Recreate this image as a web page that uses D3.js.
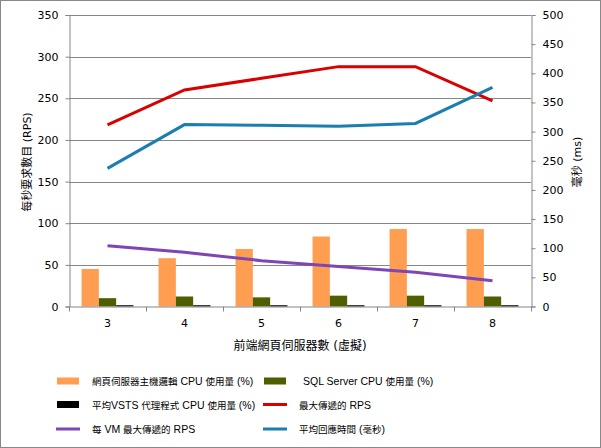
<!DOCTYPE html>
<html><head><meta charset="utf-8">
<script src="https://cdn.jsdelivr.net/npm/d3@7/dist/d3.min.js"></script>
<style>
body{margin:0;background:#fff;}
text{font-family:"DejaVu Sans","Noto Sans CJK TC",sans-serif;}
</style></head>
<body><svg id="c" width="601" height="448"></svg>
<script>
const categories = ["3","4","5","6","7","8"];
const webCpu = [45, 58, 69, 84, 93, 93];
const sqlCpu = [10, 12, 11, 13, 13, 12];
const agentCpu = [1.5, 1.5, 1.5, 1.5, 1.5, 1.5];
const maxRps = [218, 260, 274, 288, 288, 247];
const rpsPerVm = [73, 65, 55, 48, 41, 31];
const avgResp = [237, 312, 311, 309, 314, 376];
const leftTicks = [0,50,100,150,200,250,300,350];
const rightTicks = [0,50,100,150,200,250,300,350,400,450,500];

const svg = d3.select("#c");
svg.append("rect").attr("x",0.5).attr("y",0.5).attr("width",600).attr("height",447)
  .attr("fill","#fff").attr("stroke","#888");

const L=69, R=531, T=15, B=306.5;
const x = d3.scaleBand().domain(categories).range([L,R]);
const yL = d3.scaleLinear().domain([0,350]).range([B,T]);
const yR = d3.scaleLinear().domain([0,500]).range([B,T]);

// gridlines
svg.append("g").selectAll("line").data(leftTicks.filter(d=>d>0)).join("line")
  .attr("x1",L).attr("x2",R).attr("y1",d=>Math.round(yL(d))+0.5).attr("y2",d=>Math.round(yL(d))+0.5)
  .attr("stroke","#868686");

// bars
const sub = d3.scaleBand().domain(["web","sql","agent"]).range([0,x.bandwidth()]).paddingOuter(0.725);
const barColors = {web:"#FF9E50", sql:"#4F5F00", agent:"#000000"};
const barData = {web:webCpu, sql:sqlCpu, agent:agentCpu};
for (const k of ["web","sql","agent"]) {
  svg.append("g").selectAll("rect").data(categories).join("rect")
    .attr("x",(c)=>x(c)+sub(k)).attr("width",sub.bandwidth())
    .attr("y",(c,i)=>yL(barData[k][i])).attr("height",(c,i)=>B-yL(barData[k][i]))
    .attr("fill",barColors[k]);
}

// axes
const axL = svg.append("g").attr("transform",`translate(${L+0.5},0)`)
  .call(d3.axisLeft(yL).tickValues(leftTicks).tickSize(4).tickPadding(7));
const axR = svg.append("g").attr("transform",`translate(${R+0.5},0)`)
  .call(d3.axisRight(yR).tickValues(rightTicks).tickSize(4).tickPadding(7));
const axB = svg.append("g").attr("transform",`translate(0,${B})`)
  .call(d3.axisBottom(x).tickSize(0).tickPadding(13));
svg.append("g").selectAll("line").data(d3.range(categories.length+1)).join("line")
  .attr("x1",i=>Math.round(L+i*x.step())+0.5).attr("x2",i=>Math.round(L+i*x.step())+0.5)
  .attr("y1",B).attr("y2",B+5).attr("stroke","#868686");
for (const a of [axL,axR,axB]) {
  a.selectAll(".domain").attr("stroke","#868686");
  a.selectAll(".tick line").attr("stroke","#868686");
  a.selectAll("text").attr("font-size",11).attr("fill","#000")
    .attr("font-family",'"DejaVu Sans",sans-serif');
}
axB.select(".domain").attr("d",`M${L},0.5H${R+0.5}`);

// lines
const lineL = d3.line().x((d,i)=>x(categories[i])+x.bandwidth()/2).y(d=>yL(d));
const lineR = d3.line().x((d,i)=>x(categories[i])+x.bandwidth()/2).y(d=>yR(d));
svg.append("path").attr("d",lineL(rpsPerVm)).attr("fill","none").attr("stroke","#7F45B4").attr("stroke-width",3);
svg.append("path").attr("d",lineL(maxRps)).attr("fill","none").attr("stroke","#D90000").attr("stroke-width",3);
svg.append("path").attr("d",lineR(avgResp)).attr("fill","none").attr("stroke","#1A7EB0").attr("stroke-width",3);

// axis titles
svg.append("text").attr("transform","translate(31,162) rotate(-90)").attr("text-anchor","middle")
  .attr("font-size",11).text("每秒要求數目 (RPS)");
svg.append("text").attr("transform","translate(581,162) rotate(-90)").attr("text-anchor","middle")
  .attr("font-size",11).text("毫秒 (ms)");
svg.append("text").attr("x",300).attr("y",350).attr("text-anchor","middle")
  .attr("font-size",12).text("前端網頁伺服器數 (虛擬)");

// legend
const legend = [
  {label:"網頁伺服器主機邏輯 CPU 使用量 (%)", color:"#FF9E50", type:"rect", col:0, row:0},
  {label:"SQL Server CPU 使用量 (%)", color:"#4F5F00", type:"rect", col:1, row:0},
  {label:"平均VSTS 代理程式 CPU 使用量 (%)", color:"#000000", type:"rect", col:0, row:1},
  {label:"最大傳遞的 RPS", color:"#D90000", type:"line", col:1, row:1},
  {label:"每 VM 最大傳遞的 RPS", color:"#7F45B4", type:"line", col:0, row:2},
  {label:"平均回應時間 (毫秒)", color:"#1A7EB0", type:"line", col:1, row:2}
];
const colX = [57, 264], rowY = [381, 404.5, 429];
const lg = svg.append("g").selectAll("g").data(legend).join("g")
  .attr("transform",d=>`translate(${colX[d.col]},${rowY[d.row]})`);
lg.filter(d=>d.type==="rect").append("rect").attr("x",0).attr("y",-3.5).attr("width",22).attr("height",7).attr("fill",d=>d.color);
lg.filter(d=>d.type==="line").append("line").attr("x1",-1).attr("x2",23).attr("y1",0).attr("y2",0).attr("stroke",d=>d.color).attr("stroke-width",3);
const lt = lg.append("text").attr("x",d=>d.col===1&&d.row===0?39:35).attr("y",4);
lt.each(function(d){
  const runs = d.label.match(/[\u3000-\u9fff]+|[^\u3000-\u9fff]+/g);
  const t = d3.select(this);
  for (const r of runs) {
    const cjk = /[\u3000-\u9fff]/.test(r);
    t.append("tspan").text(r)
      .attr("font-size", cjk ? 9.5 : 10.5)
      .attr("font-family", cjk ? '"Noto Sans CJK TC",sans-serif' : '"Liberation Sans",sans-serif');
  }
});
</script></body></html>
